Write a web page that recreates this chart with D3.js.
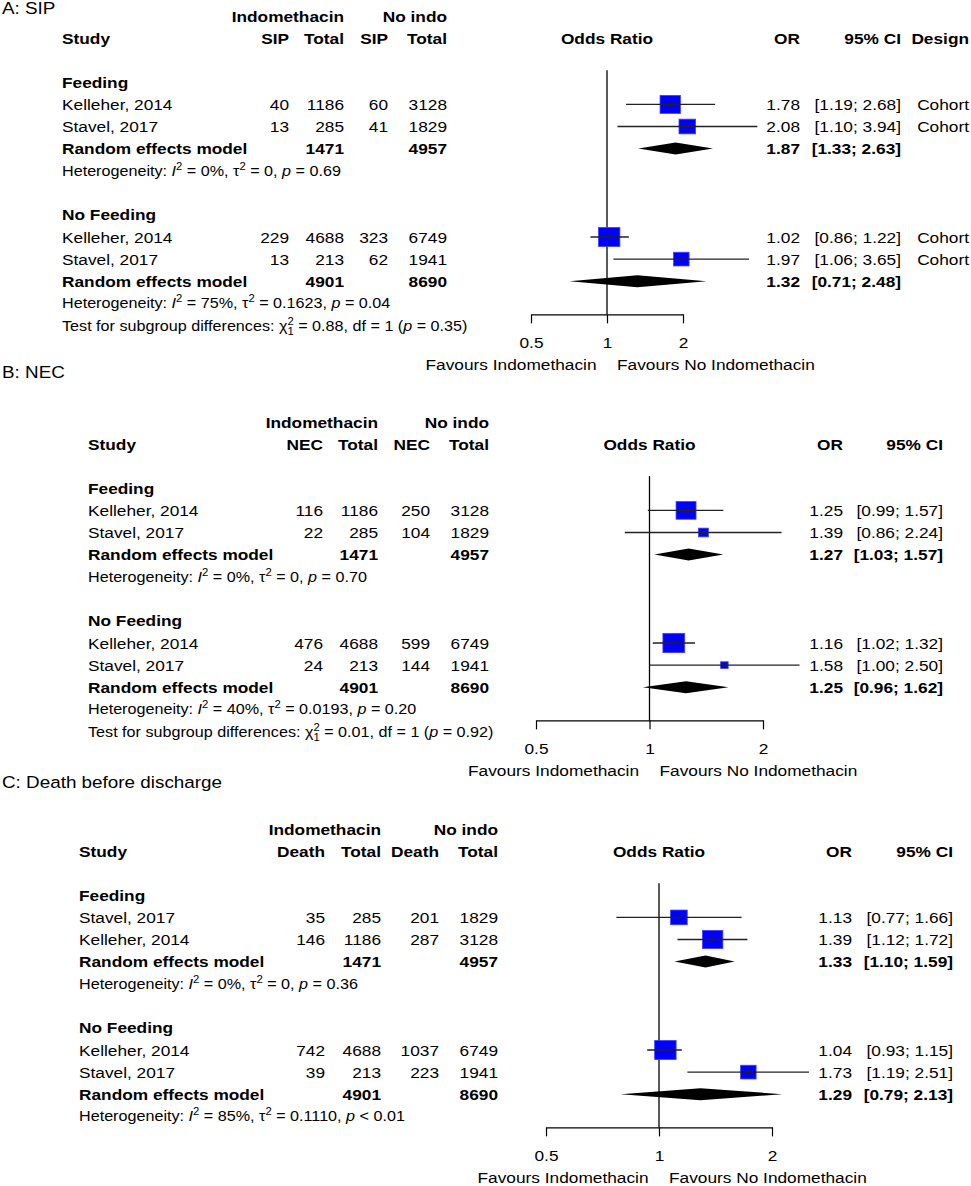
<!DOCTYPE html>
<html>
<head>
<meta charset="utf-8">
<script src="https://cdn.jsdelivr.net/npm/d3@7"></script>
<style>
body { margin: 0; background: #fff; }
svg { display: block; font-family: "Liberation Sans", Arial, Helvetica, sans-serif; }
text { white-space: pre; }
</style>
</head>
<body>
<svg id="chart" width="971" height="1186"></svg>
<script>
// ---- data ----
var subgroups = ["Feeding", "No Feeding"];
var axisTicks = [0.5, 1, 2];

// A: SIP
var sipGroup = ["Feeding", "Feeding", "No Feeding", "No Feeding"];
var sipStudy = ["Kelleher, 2014", "Stavel, 2017", "Kelleher, 2014", "Stavel, 2017"];
var sipEvIndo = [40, 13, 229, 13];
var sipNIndo = [1186, 285, 4688, 213];
var sipEvNo = [60, 41, 323, 62];
var sipNNo = [3128, 1829, 6749, 1941];
var sipOR = [1.78, 2.08, 1.02, 1.97];
var sipLo = [1.19, 1.10, 0.86, 1.06];
var sipHi = [2.68, 3.94, 1.22, 3.65];
var sipWeight = [81, 54, 90, 47];
var sipDesign = ["Cohort", "Cohort", "Cohort", "Cohort"];
var sipPoolOR = [1.87, 1.32];
var sipPoolLo = [1.33, 0.71];
var sipPoolHi = [2.63, 2.48];
var sipI2 = [0, 75];
var sipTau2 = ["0", "0.1623"];
var sipP = ["0.69", "0.04"];
var sipTest = {chi2: "0.88", df: 1, p: "0.35"};

// B: NEC
var necGroup = ["Feeding", "Feeding", "No Feeding", "No Feeding"];
var necStudy = ["Kelleher, 2014", "Stavel, 2017", "Kelleher, 2014", "Stavel, 2017"];
var necEvIndo = [116, 22, 476, 24];
var necNIndo = [1186, 285, 4688, 213];
var necEvNo = [250, 104, 599, 144];
var necNNo = [3128, 1829, 6749, 1941];
var necOR = [1.25, 1.39, 1.16, 1.58];
var necLo = [0.99, 0.86, 1.02, 1.00];
var necHi = [1.57, 2.24, 1.32, 2.50];
var necWeight = [78, 19, 93, 11];
var necPoolOR = [1.27, 1.25];
var necPoolLo = [1.03, 0.96];
var necPoolHi = [1.57, 1.62];
var necI2 = [0, 40];
var necTau2 = ["0", "0.0193"];
var necP = ["0.70", "0.20"];
var necTest = {chi2: "0.01", df: 1, p: "0.92"};

// C: Death before discharge
var deathGroup = ["Feeding", "Feeding", "No Feeding", "No Feeding"];
var deathStudy = ["Stavel, 2017", "Kelleher, 2014", "Kelleher, 2014", "Stavel, 2017"];
var deathEvIndo = [35, 146, 742, 39];
var deathNIndo = [285, 1186, 4688, 213];
var deathEvNo = [201, 287, 1037, 223];
var deathNNo = [1829, 3128, 6749, 1941];
var deathOR = [1.13, 1.39, 1.04, 1.73];
var deathLo = [0.77, 1.12, 0.93, 1.19];
var deathHi = [1.66, 1.72, 1.15, 2.51];
var deathWeight = [54, 81, 90, 47];
var deathPoolOR = [1.33, 1.29];
var deathPoolLo = [1.10, 0.79];
var deathPoolHi = [1.59, 2.13];
var deathI2 = [0, 85];
var deathTau2 = ["0", "0.1110"];
var deathP = ["0.36", "< 0.01"];

// ---- drawing ----
var svg = d3.select("#chart");
var sx = 1.13;          // picture is slightly stretched horizontally
var fs = 15.3, hfs = 14.3, pitch = 22.1;
var f2 = d3.format(".2f");
var box = d3.scaleSqrt().domain([0, 100]).range([0, 20]);

function label(g, x, y, str, opt) {
    opt = opt || {};
    var size = opt.size || fs;
    return g.append("text")
        .attr("transform", "translate(" + x + "," + (y + size * 0.36) + ") scale(" + sx + ",1)")
        .attr("text-anchor", opt.anchor || "start")
        .attr("font-size", size)
        .attr("font-weight", opt.bold ? "bold" : "normal")
        .text(str);
}

function sup(t, s, dy) {
    t.append("tspan").attr("font-size", hfs * 0.7).attr("dy", dy).text(s);
}

function hetLine(g, x, y, i2, tau2, p) {
    var t = label(g, x, y, "", {size: hfs});
    t.append("tspan").text("Heterogeneity: ");
    t.append("tspan").attr("font-style", "italic").text("I");
    sup(t, "2", -6);
    t.append("tspan").attr("dy", 6).text(" = " + i2 + "%, \u03c4");
    sup(t, "2", -6);
    t.append("tspan").attr("dy", 6).text(" = " + tau2 + ", ");
    t.append("tspan").attr("font-style", "italic").text("p");
    t.append("tspan").text(p.charAt(0) === "<" ? " " + p : " = " + p);
}

function testLine(g, x, y, test) {
    var t = label(g, x, y, "", {size: hfs});
    t.append("tspan").text("Test for subgroup differences: \u03c7");
    sup(t, "2", -6);
    t.append("tspan").attr("font-size", hfs * 0.7).attr("dx", -5.6).attr("dy", 10).text(test.df);
    t.append("tspan").attr("dy", -4).text(" = " + test.chi2 + ", df = " + test.df + " (");
    t.append("tspan").attr("font-style", "italic").text("p");
    t.append("tspan").text(" = " + test.p + ")");
}

function drawPanel(d, L) {
    var g = svg.append("g");
    var rowY = function (r) { return L.y0 + r * pitch; };
    var x = d3.scaleLog().domain([0.5, 2]).range([L.xMin, L.xMax]);
    var axisY = rowY(13.5);

    label(g, 2, L.titleY, d.title, {size: 16.7});

    label(g, L.cols[1], rowY(0), "Indomethacin", {anchor: "end", bold: true});
    label(g, L.cols[3], rowY(0), "No indo", {anchor: "end", bold: true});
    label(g, L.studyX, rowY(1), "Study", {bold: true});
    [d.event, "Total", d.event, "Total"].forEach(function (h, i) {
        label(g, L.cols[i], rowY(1), h, {anchor: "end", bold: true});
    });
    label(g, x(1), rowY(1), "Odds Ratio", {anchor: "middle", bold: true});
    label(g, L.orX, rowY(1), "OR", {anchor: "end", bold: true});
    label(g, L.ciX, rowY(1), "95% CI", {anchor: "end", bold: true});
    if (d.design) label(g, L.designX, rowY(1), "Design", {anchor: "end", bold: true});

    g.append("line")
        .attr("x1", x(1)).attr("x2", x(1))
        .attr("y1", rowY(2.45)).attr("y2", axisY)
        .attr("stroke", "#000").attr("stroke-width", 1.3);

    subgroups.forEach(function (sg, k) {
        var base = k === 0 ? 3 : 9;
        label(g, L.studyX, rowY(base), sg, {bold: true});
        var idx = d3.range(d.group.length).filter(function (i) { return d.group[i] === sg; });

        idx.forEach(function (i, j) {
            var y = rowY(base + 1 + j);
            label(g, L.studyX, y, d.study[i]);
            [d.evIndo[i], d.nIndo[i], d.evNo[i], d.nNo[i]].forEach(function (v, c) {
                label(g, L.cols[c], y, v, {anchor: "end"});
            });
            label(g, L.orX, y, f2(d.or[i]), {anchor: "end"});
            label(g, L.ciX, y, "[" + f2(d.lo[i]) + "; " + f2(d.hi[i]) + "]", {anchor: "end"});
            if (d.design) label(g, L.designX, y, d.design[i], {anchor: "end"});

            var h = box(d.weight[i]), w = h * sx;
            g.append("rect")
                .attr("x", x(d.or[i]) - w / 2).attr("y", y - h / 2)
                .attr("width", w).attr("height", h)
                .attr("fill", "#0000ff").attr("stroke", "#4040ff").attr("stroke-width", 0.8);
            g.append("line")
                .attr("x1", x(d.lo[i])).attr("x2", x(d.hi[i]))
                .attr("y1", y).attr("y2", y)
                .attr("stroke", "#222").attr("stroke-width", 1.3);
            g.append("line")
                .attr("x1", x(d.or[i])).attr("x2", x(d.or[i]))
                .attr("y1", y - 2.5).attr("y2", y + 2.5)
                .attr("stroke", "#222").attr("stroke-width", 1.2);
        });

        var ry = rowY(base + 3);
        label(g, L.studyX, ry, "Random effects model", {bold: true});
        label(g, L.cols[1], ry, d3.sum(idx, function (i) { return d.nIndo[i]; }), {anchor: "end", bold: true});
        label(g, L.cols[3], ry, d3.sum(idx, function (i) { return d.nNo[i]; }), {anchor: "end", bold: true});
        label(g, L.orX, ry, f2(d.poolOR[k]), {anchor: "end", bold: true});
        label(g, L.ciX, ry, "[" + f2(d.poolLo[k]) + "; " + f2(d.poolHi[k]) + "]", {anchor: "end", bold: true});
        var pts = [[x(d.poolLo[k]), ry], [x(d.poolOR[k]), ry - 6], [x(d.poolHi[k]), ry], [x(d.poolOR[k]), ry + 6]];
        g.append("polygon").attr("points", pts.join(" ")).attr("fill", "#000");

        hetLine(g, L.studyX, rowY(base + 4), d.i2[k], d.tau2[k], d.p[k]);
    });

    if (d.test) testLine(g, L.studyX, rowY(14), d.test);

    var ax = g.append("g")
        .attr("transform", "translate(0," + axisY + ")")
        .call(d3.axisBottom(x).tickValues(axisTicks)
            .tickFormat(function (v) { return String(v); })
            .tickSize(9).tickSizeOuter(0).tickPadding(13.6));
    ax.attr("font-family", null).attr("font-size", fs);
    ax.select(".domain").attr("stroke", "#000").attr("stroke-width", 1.2);
    ax.selectAll(".tick line").attr("stroke", "#000").attr("stroke-width", 1.2);
    ax.selectAll(".tick text").attr("fill", "#000").attr("transform", "scale(" + sx + ",1)");

    label(g, x(1) - 10.5, axisY + 50, "Favours Indomethacin", {anchor: "end"});
    label(g, x(1) + 10, axisY + 50, "Favours No Indomethacin");
}

drawPanel({
    title: "A: SIP", event: "SIP", group: sipGroup, study: sipStudy,
    evIndo: sipEvIndo, nIndo: sipNIndo, evNo: sipEvNo, nNo: sipNNo,
    or: sipOR, lo: sipLo, hi: sipHi, weight: sipWeight, design: sipDesign,
    poolOR: sipPoolOR, poolLo: sipPoolLo, poolHi: sipPoolHi,
    i2: sipI2, tau2: sipTau2, p: sipP, test: sipTest
}, {titleY: 8, y0: 16, studyX: 62, cols: [289, 344, 388, 447], xMin: 531, xMax: 683, orX: 800, ciX: 901, designX: 969});

drawPanel({
    title: "B: NEC", event: "NEC", group: necGroup, study: necStudy,
    evIndo: necEvIndo, nIndo: necNIndo, evNo: necEvNo, nNo: necNNo,
    or: necOR, lo: necLo, hi: necHi, weight: necWeight,
    poolOR: necPoolOR, poolLo: necPoolLo, poolHi: necPoolHi,
    i2: necI2, tau2: necTau2, p: necP, test: necTest
}, {titleY: 372, y0: 422, studyX: 88, cols: [323, 378, 430, 489], xMin: 536, xMax: 763, orX: 843, ciX: 943});

drawPanel({
    title: "C: Death before discharge", event: "Death", group: deathGroup, study: deathStudy,
    evIndo: deathEvIndo, nIndo: deathNIndo, evNo: deathEvNo, nNo: deathNNo,
    or: deathOR, lo: deathLo, hi: deathHi, weight: deathWeight,
    poolOR: deathPoolOR, poolLo: deathPoolLo, poolHi: deathPoolHi,
    i2: deathI2, tau2: deathTau2, p: deathP
}, {titleY: 782, y0: 829, studyX: 79, cols: [325, 381, 439, 498], xMin: 546, xMax: 772, orX: 852, ciX: 953});
</script>
</body>
</html>
